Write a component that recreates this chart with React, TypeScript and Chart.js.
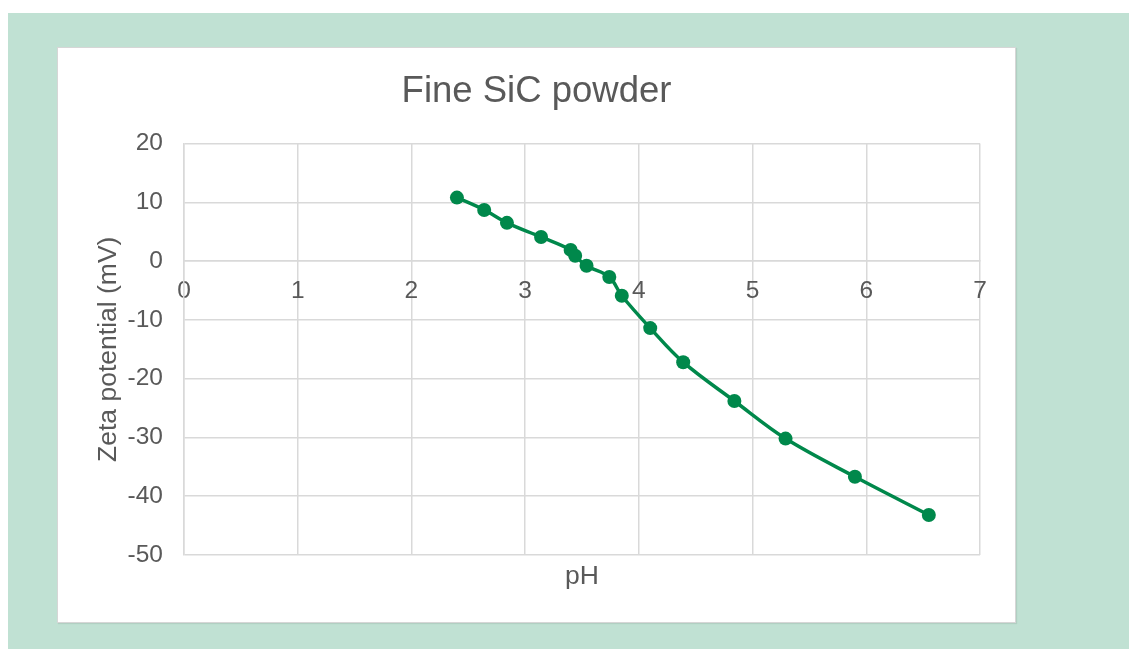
import React, { useEffect, useRef } from "react";
import { Chart, registerables } from "chart.js";

Chart.register(...registerables);

const chartTitle = "Fine SiC powder";
const xAxisTitle = "pH";
const yAxisTitle = "Zeta potential (mV)";
const phValues = [2.40, 2.64, 2.84, 3.14, 3.40, 3.44, 3.54, 3.74, 3.85, 4.10, 4.39, 4.84, 5.29, 5.90, 6.55];
const zetaValues = [10.8, 8.7, 6.5, 4.1, 1.9, 0.9, -0.8, -2.7, -5.9, -11.4, -17.2, -23.8, -30.2, -36.7, -43.2];
const xMin = 0, xMax = 7, xStep = 1;
const yMin = -50, yMax = 20, yStep = 10;

const FONT = "'Liberation Sans', Arial, sans-serif";
const TEXT = "#595959";
const GRID = "#d9d9d9";
const GREEN = "#00884b";

export default function App() {
  const ref = useRef<HTMLCanvasElement | null>(null);

  useEffect(() => {
    if (!ref.current) return;
    const points = phValues.map((x, i) => ({ x, y: zetaValues[i] }));
    const chart = new Chart(ref.current, {
      type: "scatter",
      data: {
        datasets: [
          {
            data: points,
            showLine: true,
            borderColor: GREEN,
            backgroundColor: GREEN,
            borderWidth: 3.5,
            pointRadius: 7,
            pointHoverRadius: 7,
            pointBorderWidth: 0,
            tension: 0.35,
            xAxisID: "x",
            yAxisID: "y",
          },
        ],
      },
      options: {
        responsive: false,
        animation: false,
        devicePixelRatio: 1,
        layout: { padding: { left: 35, right: 35, top: 0, bottom: 0 } },
        plugins: {
          legend: { display: false },
          tooltip: { enabled: false },
          title: {
            display: true,
            text: chartTitle,
            color: TEXT,
            font: { family: FONT, size: 36.5, weight: "normal" },
            padding: { top: 22, bottom: 29.7 },
          },
        },
        scales: {
          x: {
            type: "linear",
            position: { y: 0 } as any,
            min: xMin,
            max: xMax,
            ticks: {
              stepSize: xStep,
              color: TEXT,
              font: { family: FONT, size: 24.5 },
              padding: 15.3,
              maxRotation: 0,
            },
            grid: { color: GRID, lineWidth: 1.5, drawTicks: false },
            border: { display: true, color: GRID, width: 1.5 },
          },
          x2: {
            type: "linear",
            position: "bottom",
            min: xMin,
            max: xMax,
            ticks: { display: false },
            grid: { display: false, drawTicks: false },
            border: { display: false },
            title: {
              display: true,
              text: xAxisTitle,
              color: TEXT,
              font: { family: FONT, size: 26.5 },
              padding: { top: 0, bottom: 29.4 },
            },
            afterFit: (scale: any) => {
              scale.height = 67;
            },
          },
          y: {
            type: "linear",
            position: "left",
            min: yMin,
            max: yMax,
            ticks: {
              stepSize: yStep,
              color: TEXT,
              font: { family: FONT, size: 24.5 },
              padding: 21,
            },
            grid: { color: GRID, lineWidth: 1.5, drawTicks: false },
            border: { display: true, color: GRID, width: 1.5 },
            title: {
              display: true,
              text: yAxisTitle,
              color: TEXT,
              font: { family: FONT, size: 26.5 },
              padding: { top: 0, bottom: 0 },
            },
            afterFit: (scale: any) => {
              scale.width = 91;
            },
          },
        },
      },
    });
    return () => chart.destroy();
  }, []);

  return (
    <div
      style={{
        position: "absolute",
        left: 8,
        top: 13,
        width: 1121,
        height: 636,
        background: "#c0e1d3",
      }}
    >
      <div
        style={{
          position: "absolute",
          left: 49,
          top: 34,
          width: 959,
          height: 576,
          boxSizing: "border-box",
          background: "#ffffff",
          border: "1px solid #d6d6d6",
          boxShadow: "1px 1px 1px rgba(0,0,0,0.08)",
        }}
      >
        <canvas ref={ref} width={957} height={574} style={{ display: "block", width: 957, height: 574 }} />
      </div>
    </div>
  );
}
